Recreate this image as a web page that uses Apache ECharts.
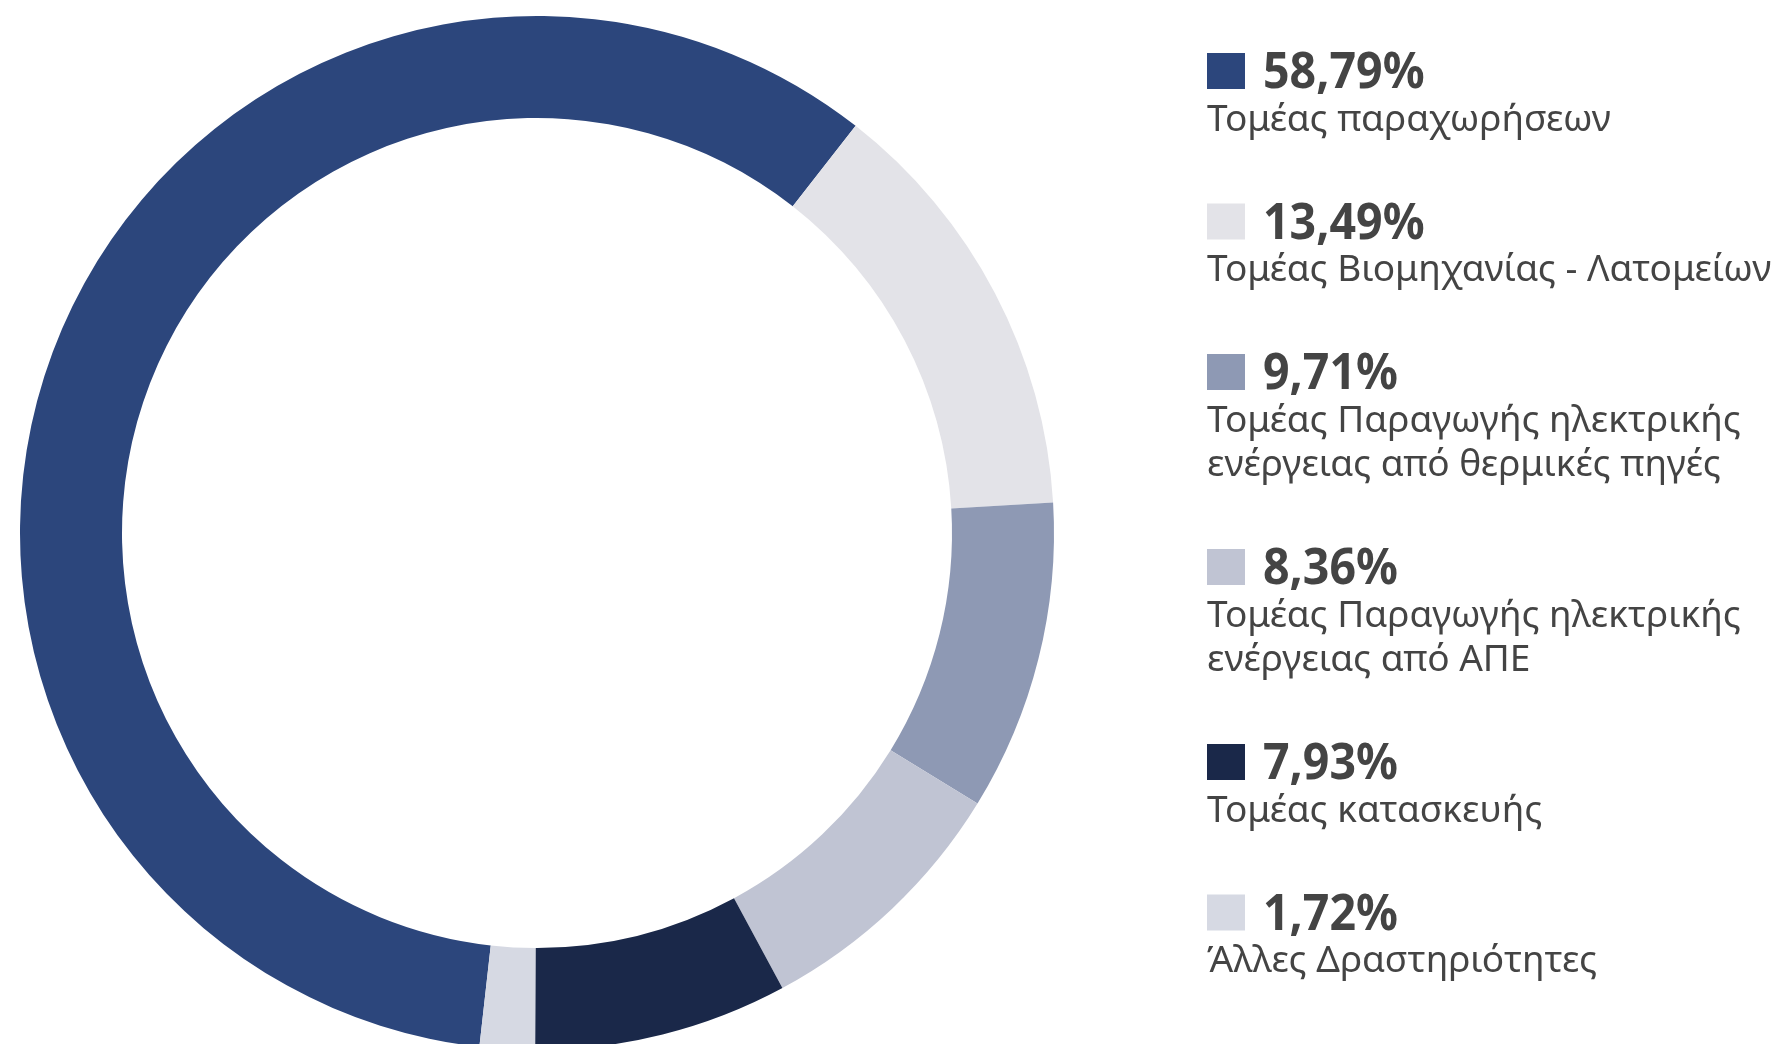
<!DOCTYPE html>
<html>
<head>
<meta charset="utf-8">
<script src="https://cdn.jsdelivr.net/npm/echarts@6/dist/echarts.min.js"></script>
<style>
html,body{margin:0;padding:0;background:#fff;}
#chart{width:1771px;height:1044px;}
</style>
</head>
<body>
<div id="chart"></div>
<script>
// Data
const names = [
  'Τομέας παραχωρήσεων',
  'Τομέας Βιομηχανίας - Λατομείων',
  'Τομέας Παραγωγής ηλεκτρικής\nενέργειας από θερμικές πηγές',
  'Τομέας Παραγωγής ηλεκτρικής\nενέργειας από ΑΠΕ',
  'Τομέας κατασκευής',
  'Άλλες Δραστηριότητες'
];
const values = [58.79, 13.49, 9.71, 8.36, 7.93, 1.72];
const percentLabels = ['58,79%', '13,49%', '9,71%', '8,36%', '7,93%', '1,72%'];
const colors = ['#2c467c', '#e3e3e8', '#8e99b4', '#c0c4d3', '#1a2849', '#d6d9e3'];

const chart = echarts.init(document.getElementById('chart'), null, {renderer: 'canvas'});

// Legend built as graphic elements from the arrays
const graphics = [];
let itemTop = 53;
const textColor = '#444444';
names.forEach((n, i) => {
  graphics.push({
    type: 'rect', x: 1207, y: itemTop,
    shape: {x: 0, y: 0, width: 38, height: 36},
    style: {fill: colors[i]}
  });
  graphics.push({
    type: 'text', x: 1263, y: itemTop + 21, scaleX: 0.93,
    style: {
      text: percentLabels[i], fill: textColor,
      font: 'bold 50px "Noto Sans"', verticalAlign: 'middle', align: 'left'
    }
  });
  graphics.push({
    type: 'text', x: 1207, y: itemTop + 45,
    style: {
      text: n, fill: textColor,
      font: '37px "Noto Sans"', lineHeight: 44.5, verticalAlign: 'top', align: 'left'
    }
  });
  const lines = n.split('\n').length;
  itemTop += 150.5 + (lines - 1) * 44.5;
});

chart.setOption({
  animation: false,
  backgroundColor: '#ffffff',
  graphic: graphics,
  series: [{
    type: 'pie',
    center: [537, 533],
    radius: [415, 517],
    startAngle: 263.6,
    clockwise: true,
    avoidLabelOverlap: false,
    label: {show: false},
    labelLine: {show: false},
    emphasis: {disabled: true},
    itemStyle: {borderWidth: 0},
    data: values.map((v, i) => ({value: v, name: names[i], itemStyle: {color: colors[i]}}))
  }]
});
</script>
</body>
</html>
